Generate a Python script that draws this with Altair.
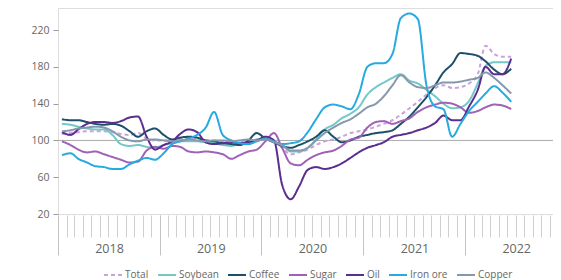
import altair as alt
import pandas as pd

series_names = ["Total", "Soybean", "Coffee", "Sugar", "Oil", "Iron ore", "Copper"]
series_colors = ["#c9a3d9", "#74c8c8", "#1b4f6b", "#a062b6", "#5b2d8f", "#27a9e1", "#8698ad"]

n_months = 54

total = [107, 108, 109, 110, 110, 110, 109, 107, 106, 108, 102, 100,
         100, 100, 101, 103, 102, 100, 100, 99, 98, 99, 100, 101,
         103, 100, 92, 85, 87, 90, 95, 99, 101, 104, 108, 110,
         112, 115, 118, 122, 128, 135, 142, 150, 157, 160, 157, 158,
         162, 172, 203, 194, 191, 191]
soybean = [118, 117, 115, 113, 112, 112, 106, 96, 94, 95, 93, 92,
           95, 97, 99, 99, 99, 98, 97, 95, 94, 97, 98, 101,
           102, 98, 95, 88, 88, 92, 101, 112, 117, 124, 129, 136,
           150, 158, 163, 168, 172, 165, 162, 155, 148, 140, 135, 136,
           143, 162, 181, 185, 185, 185]
coffee = [123, 122, 122, 120, 118, 117, 118, 116, 110, 104, 110, 113,
          106, 101, 103, 104, 103, 100, 99, 97, 96, 95, 100, 108,
          102, 98, 94, 92, 95, 99, 104, 111, 104, 98, 100, 104,
          106, 108, 109, 111, 118, 126, 136, 147, 160, 174, 183, 195,
          194, 192, 186, 177, 172, 178]
sugar = [99, 95, 90, 87, 88, 85, 82, 79, 76, 77, 89, 93,
         91, 94, 93, 88, 87, 88, 87, 85, 80, 84, 88, 90,
         99, 108, 92, 75, 73, 79, 84, 87, 89, 94, 101, 103,
         114, 120, 121, 118, 121, 124, 131, 136, 139, 141, 140, 136,
         130, 132, 136, 139, 138, 134]
oil = [109, 106, 112, 118, 120, 120, 119, 121, 125, 126, 104, 90,
       95, 99, 107, 112, 109, 98, 96, 97, 98, 97, 98, 100,
       104, 100, 52, 36, 50, 68, 71, 69, 71, 75, 81, 87,
       92, 95, 98, 104, 106, 108, 111, 114, 119, 127, 122, 122,
       137, 155, 180, 172, 172, 189]
iron_ore = [84, 86, 80, 76, 72, 71, 69, 69, 74, 78, 81, 79,
            86, 96, 99, 102, 106, 114, 131, 106, 100, 97, 96, 99,
            102, 99, 96, 97, 99, 109, 123, 136, 139, 137, 134, 150,
            180, 184, 184, 194, 233, 238, 232, 160, 137, 134, 104, 118,
            132, 142, 151, 159, 152, 142]
copper = [110, 111, 113, 114, 115, 114, 110, 104, 100, 99, 101, 101,
          100, 99, 100, 101, 100, 99, 100, 100, 99, 100, 101, 100,
          101, 98, 95, 89, 89, 92, 100, 108, 114, 119, 123, 129,
          136, 140, 148, 160, 171, 163, 158, 157, 160, 163, 163, 164,
          166, 168, 174, 168, 160, 151]

y_ticks = [20, 60, 100, 140, 180, 220]
year_ticks = ["2018-01-01", "2019-01-01", "2020-01-01", "2021-01-01", "2022-01-01"]
x_domain = ["2018-01-01", "2022-11-12"]
gridline_value = [100]

def ms(s):
    return int(pd.Timestamp(s, tz="UTC").value // 10**6)

dates = pd.date_range("2018-01-01", periods=n_months, freq="MS") + pd.Timedelta(days=14)
values = {"Total": total, "Soybean": soybean, "Coffee": coffee, "Sugar": sugar,
          "Oil": oil, "Iron ore": iron_ore, "Copper": copper}
rows = []
for name in series_names:
    for d, v in zip(dates, values[name]):
        rows.append({"date": d.strftime("%Y-%m-%d"), "value": v, "series": name})
df = pd.DataFrame(rows)

month_ticks = pd.date_range("2018-01-01", "2022-11-01", freq="MS")
month_ms = [ms(d.strftime("%Y-%m-%d")) for d in month_ticks]
year_ms = [ms(s) for s in year_ticks]
month_df = pd.DataFrame({"date": [d.strftime("%Y-%m-%d") for d in month_ticks]})

FONT = "Open Sans"
xscale = alt.Scale(type="utc", domain=[ms(x_domain[0]), ms(x_domain[1])])
yscale = alt.Scale(domain=[20, 244], nice=False)

dash_range = [[4, 3]] + [[1, 0]] * 6


def make_legend():
    return alt.Legend(orient="none", legendX=45, legendY=257,
                      direction="horizontal", title=None, padding=0,
                      symbolType="stroke", symbolSize=324,
                      symbolStrokeWidth=2, labelFontSize=10,
                      labelColor="#666666", labelFont=FONT,
                      columnPadding=5, labelOffset=2)


lines = alt.Chart(df).mark_line(interpolate="monotone", strokeWidth=2).encode(
    x=alt.X("date:T", scale=xscale,
            axis=alt.Axis(values=year_ms, orient="bottom", tickSize=40, offset=1,
                          labelOffset=51, labelPadding=-13, format="%Y",
                          domain=False, grid=False, tickColor="#c4c4c4",
                          labelColor="#666666", labelFontSize=12.5, labelFont=FONT,
                          labelFlush=False, labelOverlap=False, title=None)),
    y=alt.Y("value:Q", scale=yscale,
            axis=alt.Axis(values=y_ticks, domain=False, grid=False, tickSize=5,
                          tickColor="#999999", labelPadding=4, labelColor="#666666",
                          labelFontSize=10.5, labelFont=FONT, title=None)),
    color=alt.Color("series:N", scale=alt.Scale(domain=series_names, range=series_colors),
                    sort=series_names, legend=make_legend()),
    strokeDash=alt.StrokeDash("series:N", scale=alt.Scale(domain=series_names, range=dash_range),
                              sort=series_names, legend=make_legend()),
)

month_layer = alt.Chart(month_df).mark_point(opacity=0).encode(
    x=alt.X("date:T", scale=xscale,
            axis=alt.Axis(values=month_ms, orient="bottom", tickSize=22, offset=1,
                          labels=False, domain=False, grid=False,
                          tickColor="#cfcfcf", title=None)),
)

grid = alt.Chart(pd.DataFrame({"value": gridline_value})).mark_rule(
    color="#aaaaaa", strokeWidth=1).encode(y=alt.Y("value:Q", scale=yscale))

chart = alt.layer(month_layer, grid, lines).resolve_axis(x="independent").properties(
    width=495, height=206,
    autosize=alt.AutoSizeParams(type="none"),
    padding={"left": 50, "top": 0, "right": 0, "bottom": 66},
).configure_view(stroke=None).configure(background="white")

chart.save("out.html", embed_options={"renderer": "svg", "actions": False})
